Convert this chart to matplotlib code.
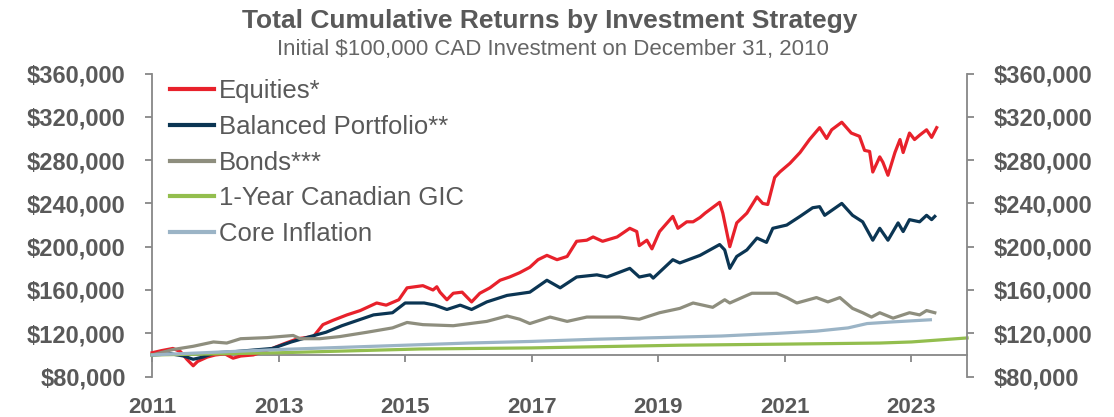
import numpy as np
import matplotlib
matplotlib.use("Agg")
from matplotlib import pyplot as plt
from matplotlib.ticker import FuncFormatter

plt.rcParams['font.family'] = ['Liberation Sans', 'DejaVu Sans']

# series (decimal year, value in $)
equities_x = [2011.00, 2011.15, 2011.33, 2011.45, 2011.55, 2011.65, 2011.72, 2011.87, 2012.00, 2012.15,
              2012.28, 2012.40, 2012.60, 2012.75, 2012.90, 2013.07, 2013.30, 2013.55, 2013.70, 2013.86,
              2014.08, 2014.29, 2014.55, 2014.70, 2014.90, 2015.03, 2015.28, 2015.44, 2015.50, 2015.55,
              2015.66, 2015.76, 2015.90, 2016.05, 2016.18, 2016.34, 2016.50, 2016.65, 2016.81, 2016.97,
              2017.10, 2017.24, 2017.40, 2017.56, 2017.71, 2017.87, 2017.97, 2018.12, 2018.35, 2018.55,
              2018.66, 2018.70, 2018.82, 2018.90, 2019.02, 2019.23, 2019.31, 2019.45, 2019.55, 2019.66,
              2019.74, 2019.97, 2020.02, 2020.13, 2020.24, 2020.40, 2020.56, 2020.65, 2020.73, 2020.84,
              2020.92, 2021.08, 2021.24, 2021.39, 2021.55, 2021.66, 2021.74, 2021.90, 2022.05, 2022.18,
              2022.26, 2022.34, 2022.39, 2022.50, 2022.55, 2022.63, 2022.74, 2022.82, 2022.87, 2022.97,
              2023.05, 2023.13, 2023.24, 2023.32, 2023.40]
equities_y = [102, 104, 106, 103, 96, 90, 94, 98, 100, 101,
              97, 99, 100, 103, 106, 110, 115, 117, 128, 132,
              137, 141, 148, 146, 151, 162, 164, 160, 163, 158,
              151, 157, 158, 149, 157, 162, 169, 172, 176, 181,
              188, 192, 188, 191, 205, 206, 209, 205, 209, 217,
              214, 201, 206, 198, 214, 228, 217, 223, 223, 227,
              231, 241, 231, 200, 222, 231, 246, 240, 239, 264,
              269, 277, 287, 299, 310, 300, 308, 315, 305, 302,
              289, 288, 269, 283, 278, 266, 287, 299, 287, 305,
              299, 303, 308, 301, 310]

balanced_x = [2011.00, 2011.30, 2011.50, 2011.65, 2011.80, 2012.00, 2012.30, 2012.50, 2012.90, 2013.20,
              2013.50, 2013.75, 2014.00, 2014.50, 2014.80, 2015.00, 2015.30, 2015.47, 2015.66, 2015.87,
              2016.05, 2016.29, 2016.61, 2016.97, 2017.24, 2017.45, 2017.71, 2018.03, 2018.19, 2018.55,
              2018.70, 2018.87, 2018.92, 2019.23, 2019.34, 2019.66, 2019.97, 2020.05, 2020.13, 2020.24,
              2020.40, 2020.56, 2020.71, 2020.81, 2021.03, 2021.24, 2021.44, 2021.55, 2021.63, 2021.90,
              2022.07, 2022.23, 2022.39, 2022.50, 2022.63, 2022.79, 2022.87, 2022.97, 2023.13, 2023.24,
              2023.32, 2023.37]
balanced_y = [100, 101, 99, 96, 98, 102, 103, 104, 106, 112,
              117, 121, 127, 137, 139, 148, 148, 146, 142, 146,
              142, 149, 155, 158, 169, 162, 172, 174, 172, 180,
              172, 174, 171, 188, 185, 192, 202, 197, 180, 191,
              197, 208, 204, 217, 220, 228, 236, 237, 229, 240,
              229, 223, 206, 217, 206, 222, 214, 225, 223, 229,
              225, 228]

bonds_x = [2011.00, 2011.33, 2011.65, 2011.97, 2012.18, 2012.40, 2012.82, 2013.23, 2013.34, 2013.65,
           2013.97, 2014.40, 2014.80, 2015.03, 2015.28, 2015.76, 2016.29, 2016.61, 2016.81, 2016.97,
           2017.29, 2017.56, 2017.87, 2018.39, 2018.70, 2019.02, 2019.34, 2019.55, 2019.86, 2020.05,
           2020.13, 2020.40, 2020.48, 2020.87, 2021.03, 2021.19, 2021.50, 2021.68, 2021.87, 2022.07,
           2022.23, 2022.37, 2022.50, 2022.71, 2022.97, 2023.13, 2023.24, 2023.37]
bonds_y = [100, 105, 108, 112, 111, 115, 116, 118, 115, 115,
           117, 121, 125, 130, 128, 127, 131, 136, 133, 129,
           135, 131, 135, 135, 133, 139, 143, 148, 144, 151,
           148, 155, 157, 157, 153, 148, 153, 149, 153, 143,
           139, 135, 139, 134, 139, 137, 141, 139]

gic_x = [2011.00, 2013.00, 2015.23, 2017.00, 2019.34, 2021.00, 2022.50, 2023.00, 2023.88]
gic_y = [100, 102, 105.5, 106.5, 109, 110, 111, 112, 115.7]

inflation_x = [2011.00, 2012.00, 2013.00, 2014.00, 2015.00, 2016.00, 2017.00, 2018.00, 2019.00, 2020.00,
               2020.90, 2021.50, 2022.00, 2022.30, 2022.70, 2023.30]
inflation_y = [100, 102.5, 105, 107, 109, 111, 112.5, 114.5, 116, 117.5,
               120, 122, 125, 129, 130.5, 132.5]

labels = ['Equities*', 'Balanced Portfolio**', 'Bonds***', '1-Year Canadian GIC', 'Core Inflation']
colors = ['#E8212B', '#0B3553', '#8E8E7E', '#93BE4E', '#9BB4C6']
year_ticks = [2011, 2013, 2015, 2017, 2019, 2021, 2023]
value_ticks = [80000, 120000, 160000, 200000, 240000, 280000, 320000, 360000]

text_col = '#595959'
axis_col = '#878787'

fig = plt.figure(figsize=(11.14, 4.17), dpi=100)
ax = fig.add_axes([0.1365, 0.0969, 0.7316, 0.7268])

series = [(equities_x, equities_y), (balanced_x, balanced_y), (bonds_x, bonds_y),
          (gic_x, gic_y), (inflation_x, inflation_y)]
for (xs, ys), lab, c in zip(series, labels, colors):
    ax.plot(xs, np.array(ys) * 1000, color=c, lw=2.3, label=lab, zorder=3, clip_on=False)

ax.set_xlim(2011, 2023.88)
ax.set_ylim(80000, 360000)
ax.set_xticks(year_ticks)
ax.set_xticklabels([str(y) for y in year_ticks])
ax.set_yticks(value_ticks)
money = FuncFormatter(lambda v, p: '${:,.0f}'.format(v))
ax.yaxis.set_major_formatter(money)

ax.spines['top'].set_visible(False)
ax.spines['right'].set_visible(False)
ax.spines['bottom'].set_position(('data', 100000))
for s in ['left', 'bottom']:
    ax.spines[s].set_color(axis_col)
    ax.spines[s].set_linewidth(1.3)

ax.tick_params(axis='x', direction='out', length=5, width=1.3, color=axis_col, pad=25,
               labelsize=16, labelcolor=text_col)
ax.tick_params(axis='y', direction='out', length=5, width=1.3, color=axis_col, pad=14,
               labelsize=17, labelcolor=text_col)
for t in ax.get_xticklabels() + ax.get_yticklabels():
    t.set_fontweight('bold')

ax2 = ax.twinx()
ax2.set_ylim(80000, 360000)
ax2.set_yticks(value_ticks)
ax2.yaxis.set_major_formatter(money)
for s in ['top', 'left', 'bottom']:
    ax2.spines[s].set_visible(False)
ax2.spines['right'].set_color(axis_col)
ax2.spines['right'].set_linewidth(1.3)
ax2.tick_params(axis='y', direction='out', length=5, width=1.3, color=axis_col, pad=14,
                labelsize=17, labelcolor=text_col)
for t in ax2.get_yticklabels():
    t.set_fontweight('bold')

leg = ax.legend(loc='upper left', bbox_to_anchor=(170 / 1114, 1 - 79 / 417),
                bbox_transform=fig.transFigure, frameon=False, fontsize=18.5,
                handlelength=1.7, handletextpad=0.2, labelspacing=0.46,
                borderpad=0, borderaxespad=0)
for t in leg.get_texts():
    t.set_color(text_col)
for h in leg.get_lines():
    h.set_linewidth(3)

fig.text(550 / 1114, 1 - 28 / 417, 'Total Cumulative Returns by Investment Strategy',
         ha='center', va='baseline', fontsize=19, fontweight='bold', color=text_col)
fig.text(553 / 1114, 1 - 55 / 417, 'Initial $100,000 CAD Investment on December 31, 2010',
         ha='center', va='baseline', fontsize=16, color='#666666')

fig.savefig('out.png', dpi=100)
